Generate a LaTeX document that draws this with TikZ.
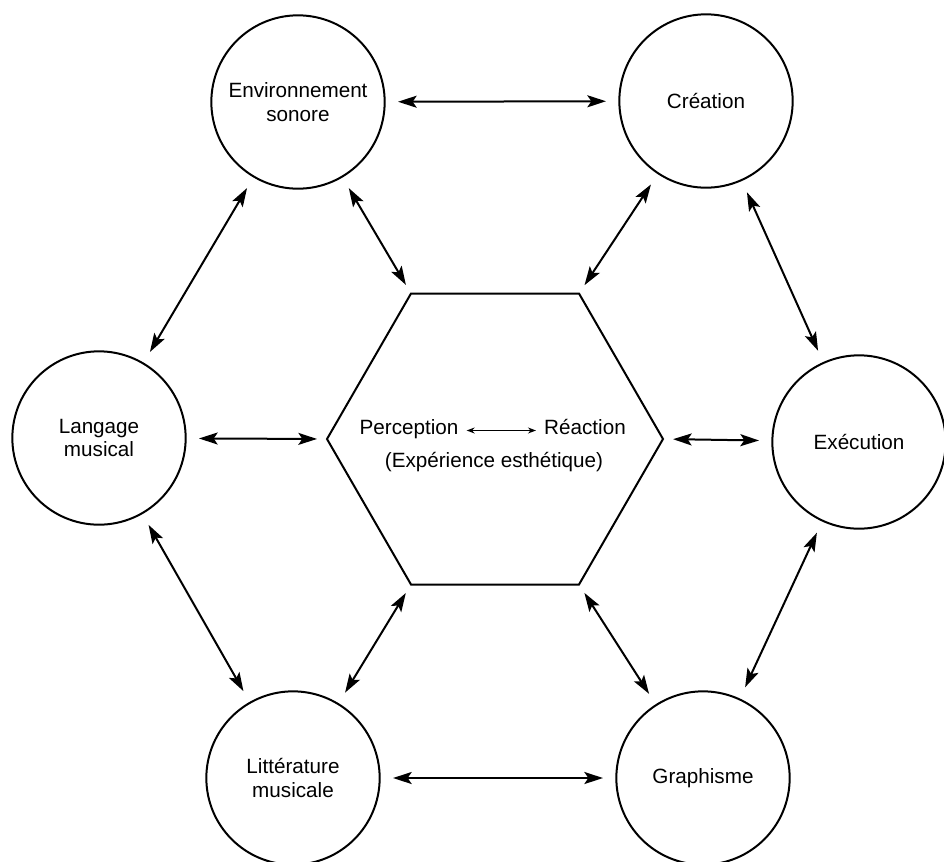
\documentclass[tikz,border=0pt]{standalone}
\usepackage{fontspec}
\setmainfont{Liberation Sans}
\usetikzlibrary{shapes.geometric,arrows.meta}
\newcommand\lbl{\fontsize{15.5pt}{17.5pt}\selectfont}
\begin{document}
\begin{tikzpicture}[x=0.75pt,y=-0.75pt,
  circ/.style={circle, draw, line width=1.5pt, minimum size=130pt, inner sep=0pt, outer sep=0pt, align=center, font=\lbl},
  hexa/.style={regular polygon, regular polygon sides=6, draw, line width=1.5pt, minimum size=252pt, inner sep=0pt, outer sep=0pt},
  lbltxt/.style={font=\lbl, inner sep=2pt, anchor=base},
  tip/.style={Stealth[length=14pt,width=9pt,inset=3pt]},
  bi/.style={line width=1.5pt, {Stealth[length=14pt,width=9pt,inset=3pt]}-{Stealth[length=14pt,width=9pt,inset=3pt]}, shorten <=10pt, shorten >=10pt},
  bihex/.style={line width=1.5pt, {Stealth[length=14pt,width=9pt,inset=3pt]}-{Stealth[length=14pt,width=9pt,inset=3pt]}, shorten <=10pt, shorten >=7.5pt},
  smallbi/.style={line width=0.9pt, {Stealth[length=6pt,width=4.5pt]}-{Stealth[length=6pt,width=4.5pt]}, shorten <=4pt, shorten >=4pt}
]
\useasboundingbox (0,0) rectangle (944,861);
\node[circ] (env) at (298,102) {Environnement\\sonore};
\node[circ] (cre) at (706,101) {Création};
\node[circ] (lang) at (99,438) {Langage\\musical};
\node[circ] (exe) at (859,442) {Exécution};
\node[circ] (lit) at (293,778) {Littérature\\musicale};
\node[circ] (gra) at (703,778) {Graphisme};
\node[hexa] (hex) at (495,439) {};
\node[lbltxt] (perc) at (409,434) {Perception};
\node[lbltxt] (reac) at (585,434) {Réaction};
\node[lbltxt] (exp) at (494,467) {(Expérience esthétique)};
\draw[smallbi] (perc.mid east) -- (reac.mid west);
\draw[bi] (env) -- (cre);
\draw[bi] (env) -- (lang);
\draw[bihex] (env) -- (hex.120);
\draw[bihex] (cre) -- (hex.60);
\draw[bi] (cre) -- (exe);
\draw[bihex] (lang) -- (hex.180);
\draw[bihex] (exe) -- (hex.0);
\draw[bi] (lang) -- (lit);
\draw[bihex] (lit) -- (hex.240);
\draw[bihex] (gra) -- (hex.300);
\draw[bi] (exe) -- (gra);
\draw[bi] (lit) -- (gra);
\end{tikzpicture}
\end{document}
